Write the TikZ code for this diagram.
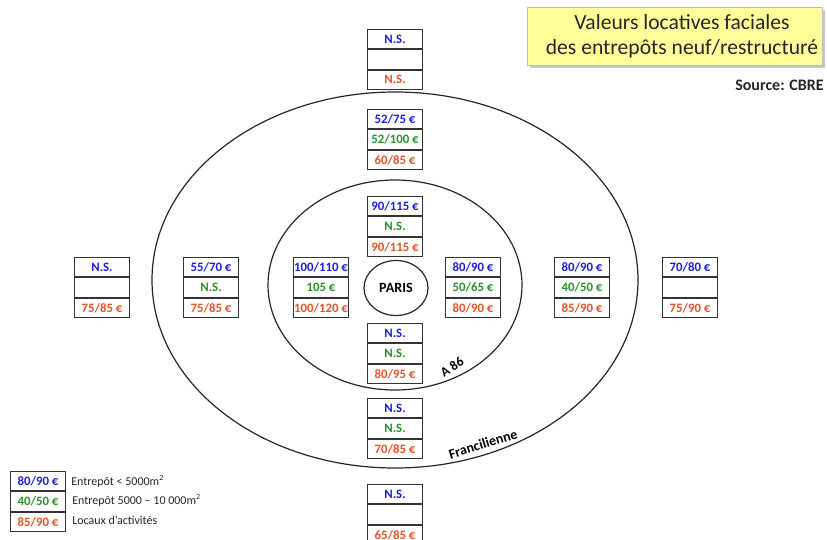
\documentclass[tikz,border=0pt]{standalone}
\usepackage{fontspec}
\setmainfont{Carlito}
\usetikzlibrary{shapes.geometric}
\definecolor{cblue}{RGB}{30,30,215}
\definecolor{cgreen}{RGB}{40,145,40}
\definecolor{corange}{RGB}{228,82,42}
\definecolor{titlefill}{RGB}{255,255,153}
\newcommand\ptab[6]{%
 \node[cell, anchor=north west] (#1-1) at (#2,#3) {\color{cblue}#4};
 \node[cell, anchor=north] (#1-2) at (#1-1.south) {\color{cgreen}#5};
 \node[cell, anchor=north] (#1-3) at (#1-2.south) {\color{corange}#6};
}
\begin{document}
\begin{tikzpicture}[x=0.75pt,y=-0.75pt,
  cell/.style={draw=black!80, line width=0.75pt, minimum width=41.25pt, minimum height=14.5pt, inner sep=0pt, font=\fontsize{9.6}{11}\selectfont\bfseries},
  ring/.style={draw=black!85, line width=0.9pt, ellipse, inner sep=0pt},
  legtext/.style={anchor=west, inner sep=0pt, font=\fontsize{9}{10}\selectfont, text=black!85}]
\useasboundingbox (0,0) rectangle (827,539);
% title
\fill[black!22] (530,10) rectangle (825,68);
\node[draw=black!25, fill=titlefill, minimum width=221.25pt, minimum height=43.5pt] (titlebox) at (674.5,36) {};
\node[align=center, font=\fontsize{16.2}{18.5}\selectfont, text=black!85] (title) at (682,36) {Valeurs locatives faciales\\des entrepôts neuf/restructuré};
\node[anchor=east, inner sep=0pt, font=\fontsize{12}{14}\selectfont\bfseries, text=black!85] (src) at (824,85) {Source: CBRE};
% rings
\node[ring, minimum width=364.5pt, minimum height=282pt] (outer) at (395,280) {};
\node[ring, minimum width=190.5pt, minimum height=157.5pt] (inner) at (395,285) {};
\node[ring, minimum width=48pt, minimum height=41.25pt, font=\fontsize{10.6}{12}\selectfont\bfseries] (paris) at (396,288) {PARIS};
\node[font=\fontsize{10}{11}\selectfont\bfseries, rotate=33, inner sep=0pt] (a86) at (452,367) {A 86};
\node[font=\fontsize{10.5}{12}\selectfont\bfseries, rotate=17, inner sep=0pt] (fran) at (483,444) {Francilienne};
% tables
\ptab{t1}{367}{29}{N.S.}{}{N.S.}
\ptab{t2}{367}{109}{52/75 €}{52/100 €}{60/85 €}
\ptab{t3}{367}{196}{90/115 €}{N.S.}{90/115 €}
\ptab{t4}{293}{257}{100/110 €}{105 €}{100/120 €}
\ptab{t5}{445}{257}{80/90 €}{50/65 €}{80/90 €}
\ptab{t6}{367}{323}{N.S.}{N.S.}{80/95 €}
\ptab{t7}{367}{398}{N.S.}{N.S.}{70/85 €}
\ptab{t8}{367}{484}{N.S.}{}{65/85 €}
\ptab{t9}{74}{257}{N.S.}{}{75/85 €}
\ptab{t10}{183}{257}{55/70 €}{N.S.}{75/85 €}
\ptab{t11}{554}{257}{80/90 €}{40/50 €}{85/90 €}
\ptab{t12}{662}{257}{70/80 €}{}{75/90 €}
% legend
\ptab{leg}{10}{471}{80/90 €}{40/50 €}{85/90 €}
\node[legtext] (l1) at (71,481) {Entrepôt < 5000m\textsuperscript{2}};
\node[legtext] (l2) at (72,500) {Entrepôt 5000 – 10 000m\textsuperscript{2}};
\node[legtext] (l3) at (72,520) {Locaux d’activités};
\end{tikzpicture}
\end{document}
